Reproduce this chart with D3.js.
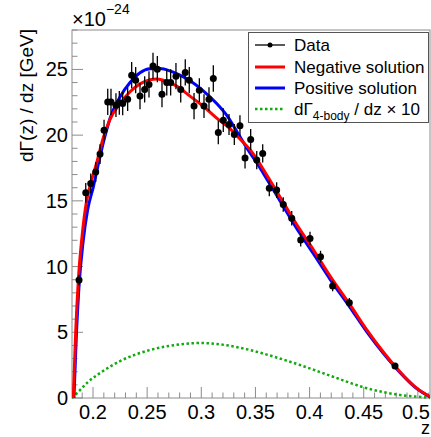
<!DOCTYPE html>
<html><head><meta charset="utf-8">
<script src="https://cdn.jsdelivr.net/npm/d3@7"></script>
<style>body{margin:0;background:#fff}svg{display:block;font-family:"Liberation Sans",Arial,sans-serif}</style>
</head><body><svg id="c" width="431" height="437"></svg>
<script>
const xTicks = [0.2, 0.25, 0.3, 0.35, 0.4, 0.45, 0.5];
const yTicks = [0, 5, 10, 15, 20, 25];
const dataZ = [0.1871,0.1933,0.1979,0.2025,0.2065,0.2102,0.2136,0.2166,0.2212,0.2243,0.2274,0.2320,0.2357,0.2394,0.2434,0.2477,0.2517,0.2554,0.2594,0.2637,0.2681,0.2717,0.2766,0.2810,0.2852,0.2889,0.2933,0.2982,0.3025,0.3071,0.3111,0.3157,0.3203,0.3256,0.3305,0.3357,0.3404,0.3456,0.3512,0.3567,0.3628,0.3696,0.3757,0.3835,0.3918,0.4004,0.4101,0.4213,0.4367,0.4789];
const dataY = [8.97,15.61,16.33,17.19,18.56,20.38,22.53,22.53,22.28,22.46,22.41,22.74,24.56,24.18,22.97,23.48,23.86,25.27,25.02,23.12,24.01,24.01,24.49,23.48,24.77,24.18,22.21,23.42,22.21,22.74,24.31,20.21,21.14,20.81,20.05,20.71,18.27,19.67,18.10,18.61,15.95,15.82,14.73,13.67,12.02,12.14,10.75,8.52,7.25,2.43];
const dataErr = [0.4,0.75,0.75,0.75,0.75,0.8,1.0,1.0,0.9,0.9,0.9,0.9,1.0,1.0,1.0,1.0,1.0,1.0,1.0,1.0,1.0,1.0,1.0,1.0,1.0,1.0,1.0,0.9,0.9,0.9,1.0,0.9,0.9,0.8,0.8,0.8,0.8,0.8,0.7,0.7,0.6,0.6,0.55,0.55,0.5,0.5,0.45,0.4,0.35,0.2];
const negZ = [0.1818,0.1830,0.1840,0.1864,0.1900,0.1935,0.1972,0.2034,0.2095,0.2157,0.2249,0.2342,0.2434,0.2526,0.2588,0.2649,0.2773,0.2896,0.3018,0.3142,0.3265,0.3357,0.3450,0.3512,0.3572,0.3727,0.3881,0.4034,0.4188,0.4373,0.4527,0.4681,0.4834,0.4989,0.5112];
const negY = [0,2.8,5.0,8.9,12.4,14.7,16.1,17.9,19.8,21.2,22.4,23.3,23.9,24.22,24.28,24.18,23.73,22.97,22.2,21.3,20.5,19.7,18.9,18.2,17.4,15.3,13.2,11.3,9.3,7.1,5.2,3.5,2.0,0.75,0.1];
const posZ = [0.1824,0.1845,0.1870,0.1910,0.1950,0.2003,0.2060,0.2110,0.2157,0.2249,0.2342,0.2434,0.2526,0.2619,0.2711,0.2803,0.2896,0.3018,0.3142,0.3234,0.3327,0.3400,0.3450,0.3512,0.3572,0.3727,0.3881,0.4034,0.4188,0.4373,0.4527,0.4681,0.4834,0.4989,0.5112];
const posY = [0,4.5,8.4,12.0,14.3,16.07,18.2,19.9,21.27,22.9,24.0,24.75,25.05,25.07,24.89,24.56,24.13,23.37,22.41,21.52,20.3,19.3,18.65,17.9,17.1,15.0,12.9,11.0,9.05,6.9,5.05,3.4,1.95,0.72,0.08];
const fourZ = [0.1806,0.1880,0.1954,0.2065,0.2250,0.2526,0.2757,0.2988,0.3219,0.3450,0.3680,0.3911,0.4216,0.4530,0.4835,0.5093,0.5112];
const fourY = [0,0.6,1.22,1.9,2.81,3.65,4.03,4.18,4.03,3.65,3.12,2.51,1.62,0.74,0.23,0.02,0];

const svg = d3.select('#c');
const L=72,R=430,T=30,B=398;
const x = d3.scaleLinear().domain([0.1806,0.5112]).range([L,R]);
const y = d3.scaleLinear().domain([0,28.0]).range([B,T]);
const axisCol = '#8c8c8c';

svg.append('rect').attr('x',L).attr('y',T).attr('width',R-L).attr('height',B-T).attr('fill','none').attr('stroke',axisCol).attr('stroke-width',1);

const xMinor = d3.range(0.19,0.5115,0.01);
svg.append('g').selectAll('line').data(xMinor).join('line')
  .attr('x1',d=>x(d)).attr('x2',d=>x(d))
  .attr('y1',B).attr('y2',d=>B-(Math.abs(d*20-Math.round(d*20))<1e-6?11:5.5))
  .attr('stroke',axisCol);
svg.append('g').selectAll('text').data(xTicks).join('text')
  .attr('x',d=>Math.min(x(d),416)).attr('y',419).attr('text-anchor','middle').attr('font-size',20).text(d=>d);
const yMinor = d3.range(0,28.01,1);
svg.append('g').selectAll('line').data(yMinor).join('line')
  .attr('y1',d=>y(d)).attr('y2',d=>y(d))
  .attr('x1',L).attr('x2',d=>L+(d%5===0?11:5.5))
  .attr('stroke',axisCol);
svg.append('g').selectAll('text').data(yTicks).join('text')
  .attr('x',68).attr('y',d=>y(d)+7).attr('text-anchor','end').attr('font-size',20).text(d=>d);

const ex = svg.append('text').attr('x',72).attr('y',26).attr('font-size',20);
ex.append('tspan').text('×10');
ex.append('tspan').attr('font-size',14).attr('dy',-12).text('−24');

svg.append('text').attr('transform','translate(33,29) rotate(-90)').attr('text-anchor','end').attr('font-size',19).text('dΓ(z) / dz [GeV]');
svg.append('text').attr('x',430).attr('y',434).attr('text-anchor','end').attr('font-size',18).text('z');

const line = d3.line().x(d=>x(d[0])).y(d=>y(d[1])).curve(d3.curveMonotoneX);
svg.append('clipPath').attr('id','cp').append('rect').attr('x',L).attr('y',T).attr('width',R-L).attr('height',B-T+2);
const g = svg.append('g').attr('clip-path','url(#cp)');

g.append('path').datum(d3.zip(fourZ,fourY)).attr('d',line).attr('fill','none').attr('stroke','#11aa11').attr('stroke-width',2.5).attr('stroke-dasharray','2.5,2.5');
g.append('path').datum(d3.zip(posZ,posY)).attr('d',line).attr('fill','none').attr('stroke','#0000ff').attr('stroke-width',3);
g.append('path').datum(d3.zip(negZ,negY)).attr('d',line).attr('fill','none').attr('stroke','#ff0000').attr('stroke-width',3);

const pts = dataZ.map((z,i)=>({z, v:dataY[i], e:dataErr[i]}));
g.append('g').selectAll('line').data(pts).join('line')
  .attr('x1',d=>x(d.z)).attr('x2',d=>x(d.z)).attr('y1',d=>y(d.v-d.e)).attr('y2',d=>y(d.v+d.e))
  .attr('stroke','#000').attr('stroke-width',1.3);
g.append('g').selectAll('circle').data(pts).join('circle')
  .attr('cx',d=>x(d.z)).attr('cy',d=>y(d.v)).attr('r',3.5).attr('fill','#000');

const lg = svg.append('g');
lg.append('rect').attr('x',248.5).attr('y',32.5).attr('width',180).attr('height',90).attr('fill','#fff').attr('stroke','#555').attr('stroke-width',1);
const rows = [
  {y:45, col:'#000', dash:null, w:1.3},
  {y:67, col:'#ff0000', dash:null, w:3},
  {y:88, col:'#0000ff', dash:null, w:3},
  {y:109, col:'#11aa11', dash:'2.5,2.5', w:2.5}
];
rows.forEach(r=>{
  lg.append('line').attr('x1',255).attr('x2',285).attr('y1',r.y).attr('y2',r.y).attr('stroke',r.col).attr('stroke-width',r.w).attr('stroke-dasharray',r.dash);
});
lg.append('circle').attr('cx',270).attr('cy',45).attr('r',2.5).attr('fill','#000');
const lt = [['Data',45],['Negative solution',67],['Positive solution',88]];
lt.forEach(t=>lg.append('text').attr('x',294).attr('y',t[1]+6).attr('font-size',17).text(t[0]));
const t4 = lg.append('text').attr('x',294).attr('y',115).attr('font-size',17);
t4.append('tspan').text('dΓ');
t4.append('tspan').attr('font-size',12).attr('dy',5).text('4-body');
t4.append('tspan').attr('dy',-5).text(' / dz × 10');
</script></body></html>
